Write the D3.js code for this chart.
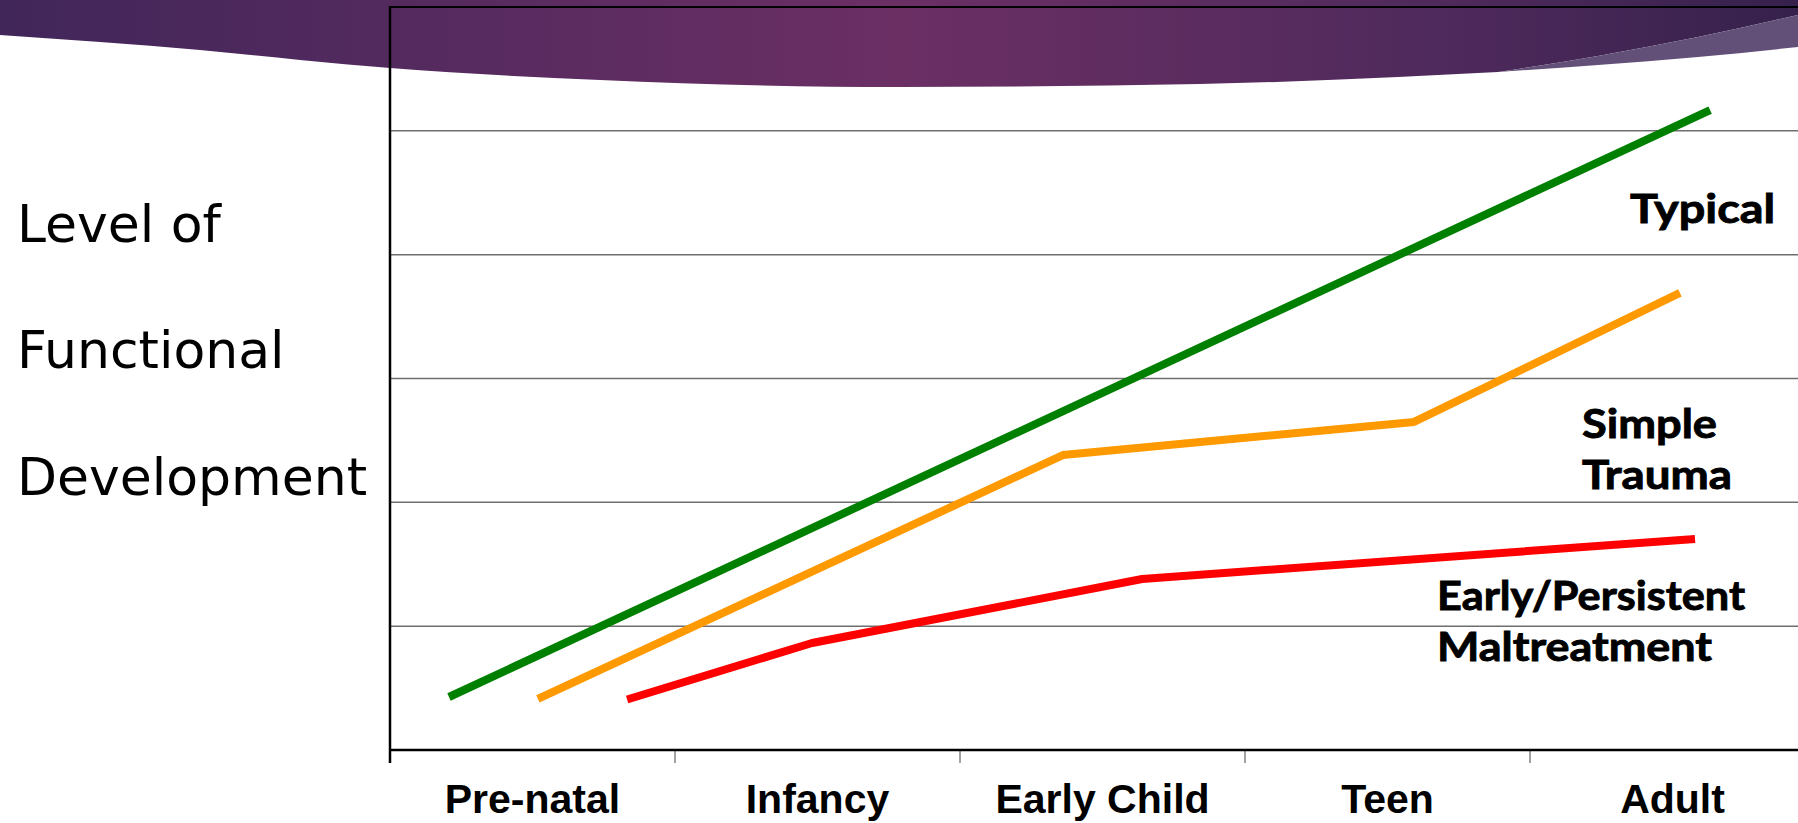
<!DOCTYPE html>
<html>
<head>
<meta charset="utf-8">
<script src="https://cdn.jsdelivr.net/npm/d3@7/dist/d3.min.js"></script>
<style>
  html, body { margin: 0; padding: 0; background: #ffffff; }
  svg { display: block; }
</style>
</head>
<body>
<svg id="chart" width="1798" height="823"></svg>
<script>
// ---------------- DATA ----------------
const categories = ["Pre-natal", "Infancy", "Early Child", "Teen", "Adult"];
const yGridValues = [1, 2, 3, 4, 5];
const yAxisLabelLines = ["Level of", "Functional", "Development"];

// x in category units (0 = left edge of "Pre-natal" band), y in grid units (0..6)
const typicalX = [0.207, 4.632];
const typicalY = [0.428, 5.168];
const simpleX = [0.519, 2.361, 3.593, 4.526];
const simpleY = [0.412, 2.382, 2.649, 3.691];
const maltreatX = [0.832, 1.481, 2.639, 4.579];
const maltreatY = [0.408, 0.864, 1.381, 1.704];

const seriesNames = ["Typical", "Simple Trauma", "Early/Persistent Maltreatment"];
const seriesColors = ["#008000", "#FF9900", "#FF0000"];

// ---------------- LAYOUT ----------------
const W = 1798, H = 823;
const plotLeft = 390, plotTop = 7, plotBottom = 750;
const bandW = 285;
const svg = d3.select("#chart");

// ---------- decorative banner ----------
const defs = svg.append("defs");
const grad = defs.append("linearGradient").attr("id", "bannerGrad")
  .attr("x1", "0").attr("x2", "1").attr("y1", "0").attr("y2", "0");
grad.append("stop").attr("offset", "0").attr("stop-color", "#41265a");
grad.append("stop").attr("offset", "0.5").attr("stop-color", "#6b2f64");
grad.append("stop").attr("offset", "0.8").attr("stop-color", "#4f2a5c");
grad.append("stop").attr("offset", "1").attr("stop-color", "#36214c");

const bottomEdge = [[0,35],[100,42],[200,50],[300,60],[390,68],[600,80],[900,87],[1200,84],[1398,77],[1498,72]];
const wedgeTop = [[1498,72],[1598,56],[1698,37],[1798,15]];
const wedgeBottom = [[1498,72],[1598,65],[1698,57],[1798,47]];

const curve = d3.line().curve(d3.curveMonotoneX);
svg.append("path")
  .attr("d", "M0,0 L" + W + ",0 L" + W + ",15 " +
       curve(wedgeTop.slice().reverse()).replace(/^M[^LC]*/, "") +
       " " + curve(bottomEdge.slice().reverse()).replace(/^M[^LC]*/, "") + " Z")
  .attr("fill", "url(#bannerGrad)");

const wedgePath = curve(wedgeBottom) + " L" + W + ",15 " +
  curve(wedgeTop.slice().reverse()).replace(/^M[^LC]*/, "") + " Z";
svg.append("path").attr("d", wedgePath).attr("fill", "#625078");

// ---------- scales ----------
const x = d3.scaleLinear().domain([0, categories.length]).range([plotLeft, plotLeft + bandW * categories.length]);
const xBand = d3.scaleBand().domain(categories).range([plotLeft, plotLeft + bandW * categories.length]).padding(0);
const y = d3.scaleLinear().domain([0, 6]).range([plotBottom, plotTop]);

const g = svg.append("g");

// gridlines
g.selectAll("line.grid").data(yGridValues).join("line")
  .attr("class", "grid")
  .attr("x1", plotLeft).attr("x2", W)
  .attr("y1", d => y(d)).attr("y2", d => y(d))
  .attr("stroke", "#6e6e6e").attr("stroke-width", 1.5);

// top border
g.append("line").attr("x1", plotLeft).attr("x2", W)
  .attr("y1", y(6)).attr("y2", y(6))
  .attr("stroke", "#000").attr("stroke-width", 2);

// x axis ticks at band boundaries
g.selectAll("line.tick").data(categories).join("line")
  .attr("class", "tick")
  .attr("x1", d => xBand(d)).attr("x2", d => xBand(d))
  .attr("y1", plotBottom).attr("y2", plotBottom + 13)
  .attr("stroke", "#444").attr("stroke-width", 1);

// bottom axis
g.append("line").attr("x1", plotLeft).attr("x2", W)
  .attr("y1", plotBottom).attr("y2", plotBottom)
  .attr("stroke", "#000").attr("stroke-width", 2.5);
// left axis
g.append("line").attr("x1", plotLeft).attr("x2", plotLeft)
  .attr("y1", plotTop - 1).attr("y2", plotBottom + 13)
  .attr("stroke", "#000").attr("stroke-width", 2.5);

// tick labels
g.selectAll("text.cat").data(categories).join("text")
  .attr("class", "cat")
  .attr("x", d => xBand(d) + xBand.bandwidth() / 2)
  .attr("y", 813)
  .attr("text-anchor", "middle")
  .attr("font-family", "'Liberation Sans', Arial, sans-serif")
  .attr("font-weight", "bold")
  .attr("font-size", 41)
  .attr("fill", "#000")
  .text(d => d);

// lines
const seriesData = [
  typicalX.map((v, i) => [v, typicalY[i]]),
  simpleX.map((v, i) => [v, simpleY[i]]),
  maltreatX.map((v, i) => [v, maltreatY[i]])
];
const lineGen = d3.line().x(d => x(d[0])).y(d => y(d[1]));
g.selectAll("path.series").data(seriesData).join("path")
  .attr("class", "series")
  .attr("d", lineGen)
  .attr("fill", "none")
  .attr("stroke", (d, i) => seriesColors[i])
  .attr("stroke-width", 8)
  .attr("stroke-linejoin", "bevel")
  .attr("stroke-linecap", "butt");

// y axis label
svg.selectAll("text.ylab").data(yAxisLabelLines).join("text")
  .attr("class", "ylab")
  .attr("x", 17)
  .attr("y", (d, i) => [242, 368, 495][i])
  .attr("font-family", "'DejaVu Sans', Verdana, sans-serif")
  .attr("font-size", 52)
  .attr("fill", "#000")
  .text(d => d);

// series labels
const seriesLabelLines = [
  { t: "Typical", x: 1630, y: 223, w: 145 },
  { t: "Simple", x: 1582, y: 438, w: 135 },
  { t: "Trauma", x: 1582, y: 489, w: 150 },
  { t: "Early/Persistent", x: 1437, y: 610, w: 308 },
  { t: "Maltreatment", x: 1437, y: 661, w: 275 }
];
svg.selectAll("text.slab").data(seriesLabelLines).join("text")
  .attr("class", "slab")
  .attr("x", d => d.x).attr("y", d => d.y)
  .attr("font-family", "Lato, 'Open Sans', sans-serif")
  .attr("font-weight", "bold")
  .attr("font-size", 41)
  .attr("textLength", d => d.w)
  .attr("lengthAdjust", "spacingAndGlyphs")
  .attr("fill", "#000")
  .attr("stroke", "#000")
  .attr("stroke-width", 0.9)
  .text(d => d.t);
</script>
</body>
</html>
